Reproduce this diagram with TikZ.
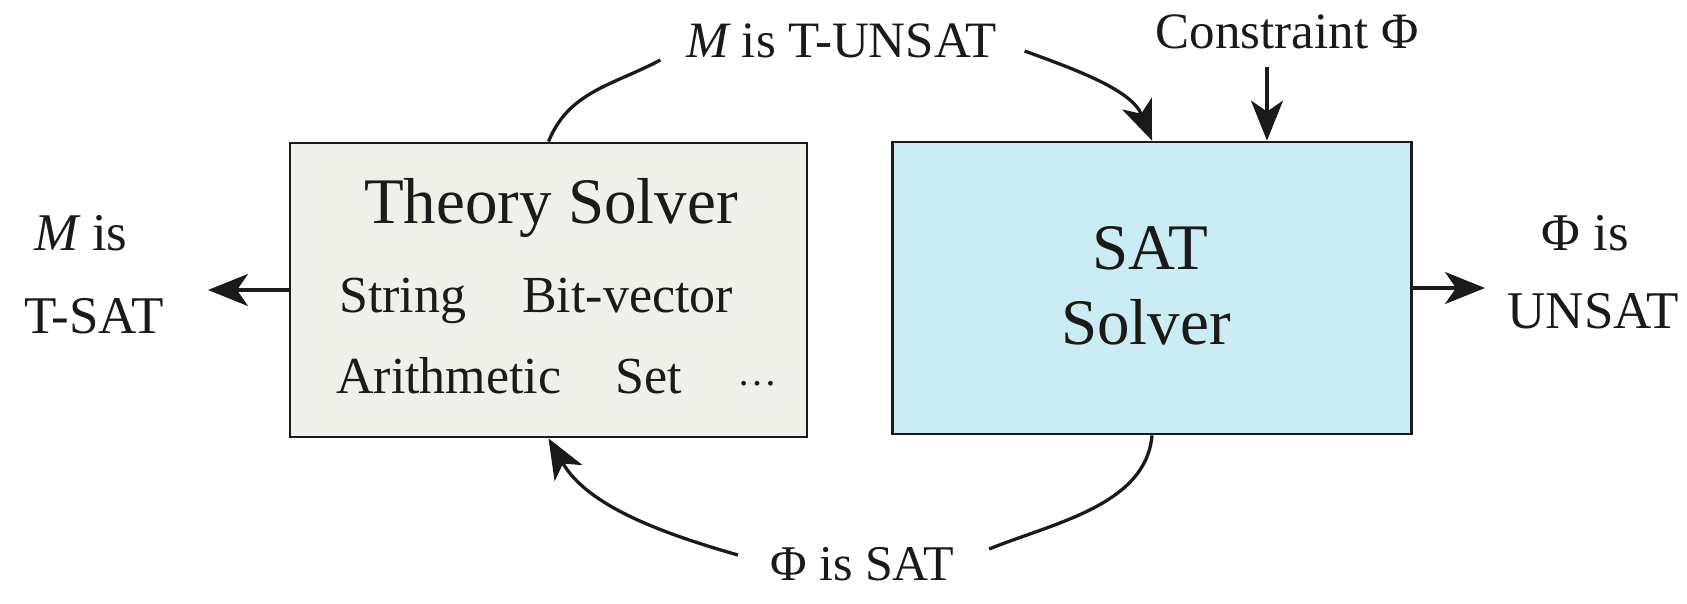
\documentclass[tikz,border=0pt]{standalone}
\usepackage{fontspec}
\setmainfont{Liberation Serif}
\usetikzlibrary{arrows.meta}
\definecolor{tsfill}{HTML}{EFF0EA}
\definecolor{satfill}{HTML}{CBECF4}
\definecolor{ink}{HTML}{1A1A1A}
\begin{document}
\begin{tikzpicture}[x=1pt,y=-1pt,
  box/.style={draw=ink,line width=2.8pt,inner sep=0pt},
  lbl/.style={font=\fontsize{51}{60}\selectfont,anchor=base,inner sep=0pt,text=ink},
  intext/.style={font=\fontsize{52}{60}\selectfont,anchor=base west,inner sep=0pt,text=ink},
  conn/.style={line width=3.3pt,draw=ink},
  tip/.style={-{Stealth[length=40pt,width=32pt,inset=11pt]}}]
\useasboundingbox (0,0) rectangle (1687,603);
% boxes
\node[box,fill=tsfill,minimum width=517pt,minimum height=294pt] (ts) at (548.5,290) {};
\node[box,fill=satfill,minimum width=519pt,minimum height=292pt] (sat) at (1152,288) {};
% theory solver text
\node[lbl,font=\fontsize{65}{70}\selectfont] (tstitle) at (551,223) {Theory Solver};
\node[intext] (str) at (339,312) {String};
\node[intext] (bv) at (522,312) {Bit-vector};
\node[intext] (ar) at (336,393) {Arithmetic};
\node[intext] (set) at (615,393) {Set};
\node[intext,font=\fontsize{40}{40}\selectfont] (dots) at (737,385) {…};
% sat solver text
\node[lbl,font=\fontsize{65}{70}\selectfont] (satt) at (1150,269) {SAT};
\node[lbl,font=\fontsize{65}{70}\selectfont] (sats) at (1146,344) {Solver};
% labels
\node[lbl] (unsat) at (841.5,57) {{\itshape M} is T-UNSAT};
\node[lbl] (cons) at (1287,48) {Constraint Φ};
\node[lbl,font=\fontsize{50}{60}\selectfont] (phisat) at (862,580) {Φ is SAT};
\node[lbl,font=\fontsize{53}{60}\selectfont] (mis) at (81,250) {{\itshape M} is};
\node[lbl,font=\fontsize{53}{60}\selectfont] (tsat) at (94,333) {T-SAT};
\node[lbl,font=\fontsize{53}{60}\selectfont] (phiis) at (1585,250) {Φ is};
\node[lbl,font=\fontsize{53}{60}\selectfont] (unsatr) at (1593,328) {UNSAT};
% connectors
\coordinate (lt) at (208,290);
\coordinate (rt) at (1485,288);
\coordinate (cs) at (1267,67);
\draw[conn,tip] (ts.west) -- (lt);
\draw[conn,tip] (sat.east) -- (rt);
\draw[conn,tip] (cs) -- (sat.north -| cs);
\draw[conn] (ts.north) to[out=68,in=208,looseness=1] ([xshift=-26pt,yshift=-3pt]unsat.base west);
\draw[conn,tip] ([xshift=28pt,yshift=6pt]unsat.base east) to[out=-20,in=112,looseness=0.9] (sat.north);
\draw[conn] (sat.south) to[out=-95,in=22,looseness=0.9] ([xshift=35pt,yshift=31pt]phisat.base east);
\draw[conn,tip] ([xshift=-32pt,yshift=25pt]phisat.base west) to[out=164,in=-60,looseness=0.9] (ts.south);
\end{tikzpicture}
\end{document}
